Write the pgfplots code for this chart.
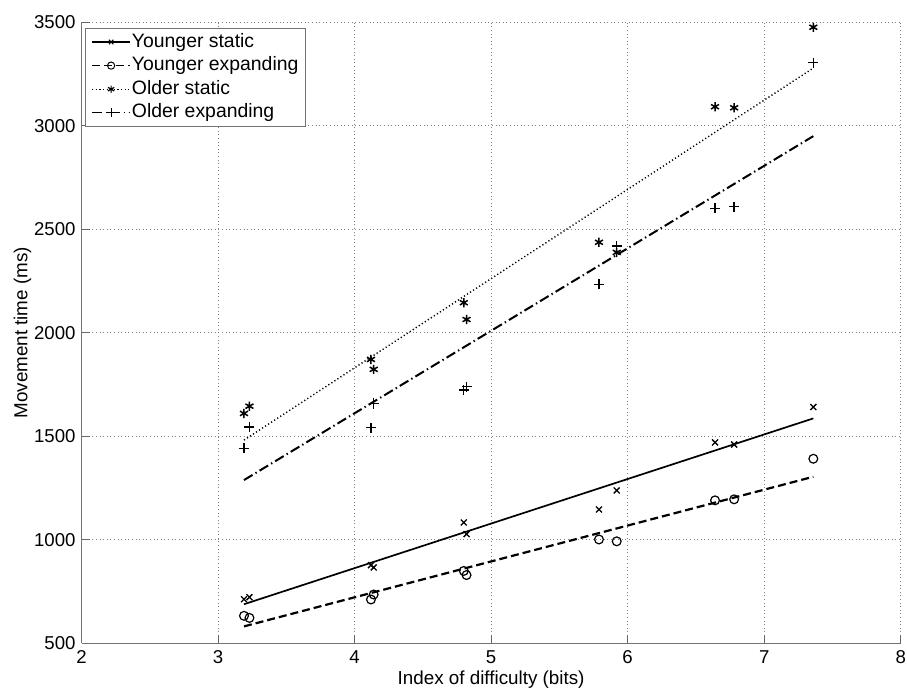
\documentclass[border=0pt]{standalone}
\usepackage{fontspec}
\setmainfont{Liberation Sans}
\usepackage{pgfplots}
\pgfplotsset{compat=1.18}
\usepackage{pgfplotstable}
\usetikzlibrary{calc}

% measured points (index of difficulty, movement time)
\pgfplotstableread{
id   mt
3.19 712
3.23 722
4.12 877
4.14 866
4.80 1083
4.82 1027
5.79 1146
5.92 1238
6.64 1470
6.78 1460
7.36 1641
}\youngstat
\pgfplotstableread{
id   mt
3.19 632
3.23 622
4.12 711
4.14 735
4.80 849
4.82 829
5.79 1001
5.92 992
6.64 1190
6.78 1195
7.36 1391
}\youngexp
\pgfplotstableread{
id   mt
3.19 1610
3.23 1645
4.12 1871
4.14 1823
4.80 2145
4.82 2064
5.79 2437
5.92 2388
6.64 3092
6.78 3087
7.36 3476
}\oldstat
\pgfplotstableread{
id   mt
3.19 1441
3.23 1545
4.12 1541
4.14 1658
4.80 1723
4.82 1739
5.79 2234
5.92 2419
6.64 2601
6.78 2609
7.36 3305
}\oldexp

\tikzset{
  ysline/.style={solid, line width=0.85pt},
  yeline/.style={dash pattern=on 4pt off 2pt, line width=1.1pt},
  osline/.style={dash pattern=on 0.6pt off 1.2pt, line width=0.7pt},
  oeline/.style={dash pattern=on 5pt off 1.7pt on 0.7pt off 1.7pt, line width=1pt},
}

\begin{document}
\fontsize{9.2}{11}\selectfont
\begin{tikzpicture}
\begin{axis}[
  name=ax,
  scale only axis, width=409.5pt, height=310.35pt,
  xmin=2, xmax=8, ymin=500, ymax=3500,
  xtick={2,3,...,8}, ytick={500,1000,...,3500},
  axis x line*=bottom, axis y line*=left,
  axis line style={black!55, line width=0.6pt, -},
  tick style={black!60, line width=0.5pt},
  major tick length=4pt,
  grid=major,
  grid style={black!50, line width=0.45pt, dash pattern=on 0.5pt off 1.3pt},
  /pgf/number format/assume math mode=true,
  /pgf/number format/1000 sep={},
  ticklabel style={font=\fontsize{9.3}{11}\selectfont},
  xticklabel style={anchor=north, inner sep=0pt, yshift=-3.5pt},
  yticklabel style={anchor=east, inner sep=0pt, xshift=-2.8pt},
  xlabel={Index of difficulty (bits)},
  ylabel={Movement time (ms)},
  xlabel style={at={(axis description cs:0.5,0)}, anchor=north, inner sep=0pt, yshift=-13.5pt},
  ylabel style={at={($(axis description cs:0,0.5)+(-29.5pt,0pt)$)}, anchor=center, inner sep=0pt},
  label style={font=\fontsize{9.4}{11}\selectfont},
  legend image code/.code={\draw[mark repeat=2, mark phase=2, #1] plot coordinates {(0pt,0pt) (9.5pt,0pt) (19pt,0pt)};},
  legend style={at={(axis description cs:0,1)}, anchor=north west, xshift=1.75pt, yshift=-2.7pt,
    draw=black!55, line width=0.5pt, inner xsep=3pt, inner ysep=1.8pt, row sep=1.6pt,
    font=\fontsize{9.7}{11}\selectfont,
    nodes={inner sep=0.6pt, text height=7pt, text depth=2pt}},
  legend cell align=left,
]

% fitted lines
\addplot[ysline, forget plot] coordinates {(3.19,688) (7.36,1586)};
\addplot[yeline, forget plot] coordinates {(3.19,581) (7.36,1304)};
\addplot[osline, forget plot] coordinates {(3.19,1481) (7.36,3279)};
\addplot[oeline, forget plot] coordinates {(3.19,1288) (7.36,2950)};

% raw points
\addplot[only marks, mark=x, mark size=2.1pt, mark options={line width=0.65pt}, forget plot] table[x=id, y=mt] {\youngstat};
\addplot[only marks, mark=o, mark size=2.2pt, mark options={line width=0.6pt}, forget plot] table[x=id, y=mt] {\youngexp};
\addplot[only marks, mark=asterisk, mark size=2.3pt, mark options={line width=0.75pt}, forget plot] table[x=id, y=mt] {\oldstat};
\addplot[only marks, mark=+, mark size=2.5pt, mark options={line width=0.65pt}, forget plot] table[x=id, y=mt] {\oldexp};

\addlegendimage{ysline, line width=0.6pt, mark=x, mark size=1.6pt, mark options={solid, line width=0.5pt}}
\addlegendentry{Younger static}
\addlegendimage{yeline, line width=0.6pt, mark=o, mark size=1.8pt, mark options={solid, line width=0.5pt}}
\addlegendentry{Younger expanding}
\addlegendimage{osline, line width=0.5pt, mark=asterisk, mark size=1.8pt, mark options={solid, line width=0.6pt}}
\addlegendentry{Older static}
\addlegendimage{oeline, line width=0.6pt, mark=+, mark size=2.3pt, mark options={solid, line width=0.5pt}}
\addlegendentry{Older expanding}
\end{axis}
\pgfresetboundingbox
\path[use as bounding box] ($(ax.south west)+(-40.75pt,-23.5pt)$) rectangle ($(ax.north east)+(3.15pt,11.15pt)$);
\end{tikzpicture}
\end{document}
